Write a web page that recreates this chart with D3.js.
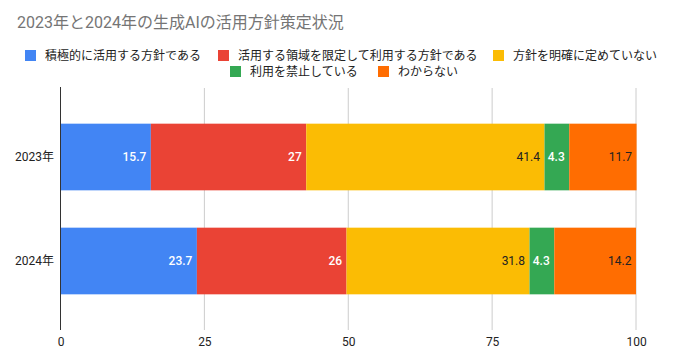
<!DOCTYPE html>
<html><head><meta charset="utf-8">
<script src="https://cdn.jsdelivr.net/npm/d3@7"></script>
<style>body{margin:0;background:#fff;font-family:Roboto,"Noto Sans CJK JP",sans-serif;}</style>
</head><body><svg id="c" width="679" height="364"></svg>
<script>
const title = "2023年と2024年の生成AIの活用方針策定状況";
const categories = ["2023年", "2024年"];
const seriesNames = ["積極的に活用する方針である", "活用する領域を限定して利用する方針である", "方針を明確に定めていない", "利用を禁止している", "わからない"];
const seriesColors = ["#4285f4", "#ea4335", "#fbbc04", "#34a853", "#ff6d01"];
const labelColors = ["#fff", "#fff", "#222", "#fff", "#222"];
const values2023 = [15.7, 27, 41.4, 4.3, 11.7];
const values2024 = [23.7, 26, 31.8, 4.3, 14.2];
const xTicks = [0, 25, 50, 75, 100];

const rows = [values2023, values2024];
const svg = d3.select("#c");
const font = 'Roboto,"Noto Sans CJK JP",sans-serif';

svg.append("text").attr("x", 17).attr("y", 28).attr("font-size", 16).attr("fill", "#757575")
  .attr("font-family", font).text(title);

// legend
const legendRows = [
  [{i:0,x:25},{i:1,x:218},{i:2,x:493}],
  [{i:3,x:230},{i:4,x:378}]
];
const legendY = [55.5, 71.5];
legendRows.forEach((r, ri) => {
  r.forEach(it => {
    svg.append("rect").attr("x", it.x).attr("y", legendY[ri]-5.5).attr("width", 11).attr("height", 11).attr("fill", seriesColors[it.i]);
    svg.append("text").attr("x", it.x+20).attr("y", legendY[ri]+4.3).attr("font-size", 12).attr("fill", "#222")
      .attr("font-family", font).text(seriesNames[it.i]);
  });
});

const x = d3.scaleLinear().domain([0, 100]).range([60.5, 636]);
const y = d3.scaleBand().domain(categories).range([88, 330]).paddingInner(0.359).paddingOuter(0.343);

// grid
svg.append("g").selectAll("line").data(xTicks.slice(1)).join("line")
  .attr("x1", d => x(d)).attr("x2", d => x(d)).attr("y1", 88).attr("y2", 330)
  .attr("stroke", "#cccccc").attr("stroke-width", 1);

const xAxis = svg.append("g").attr("transform", "translate(0,330)")
  .call(d3.axisBottom(x).tickValues(xTicks).tickSize(0).tickPadding(7.5));
xAxis.select(".domain").remove();
xAxis.selectAll("text").attr("font-size", 12).attr("fill", "#222").attr("font-family", font);

const yAxis = svg.append("g").attr("transform", "translate(60,0)")
  .call(d3.axisLeft(y).tickSize(0).tickPadding(6));
yAxis.select(".domain").remove();
yAxis.selectAll("text").attr("font-size", 12).attr("fill", "#222").attr("font-family", font);

rows.forEach((vals, ri) => {
  let acc = 0;
  const g = svg.append("g");
  vals.forEach((v, si) => {
    const x0 = x(acc), x1 = x(acc + v);
    g.append("rect").attr("x", x0).attr("y", y(categories[ri])).attr("width", x1 - x0).attr("height", y.bandwidth())
      .attr("fill", seriesColors[si]);
    g.append("text").attr("x", x1 - 4.5).attr("y", y(categories[ri]) + y.bandwidth()/2 + 4.3)
      .attr("text-anchor", "end").attr("font-size", 12).attr("font-weight", labelColors[si] === "#fff" ? 500 : 400)
      .attr("fill", labelColors[si]).attr("font-family", font).text(v);
    acc += v;
  });
});

svg.append("line").attr("x1", 60.5).attr("x2", 60.5).attr("y1", 87).attr("y2", 330).attr("stroke", "#333").attr("stroke-width", 1);
</script></body></html>
